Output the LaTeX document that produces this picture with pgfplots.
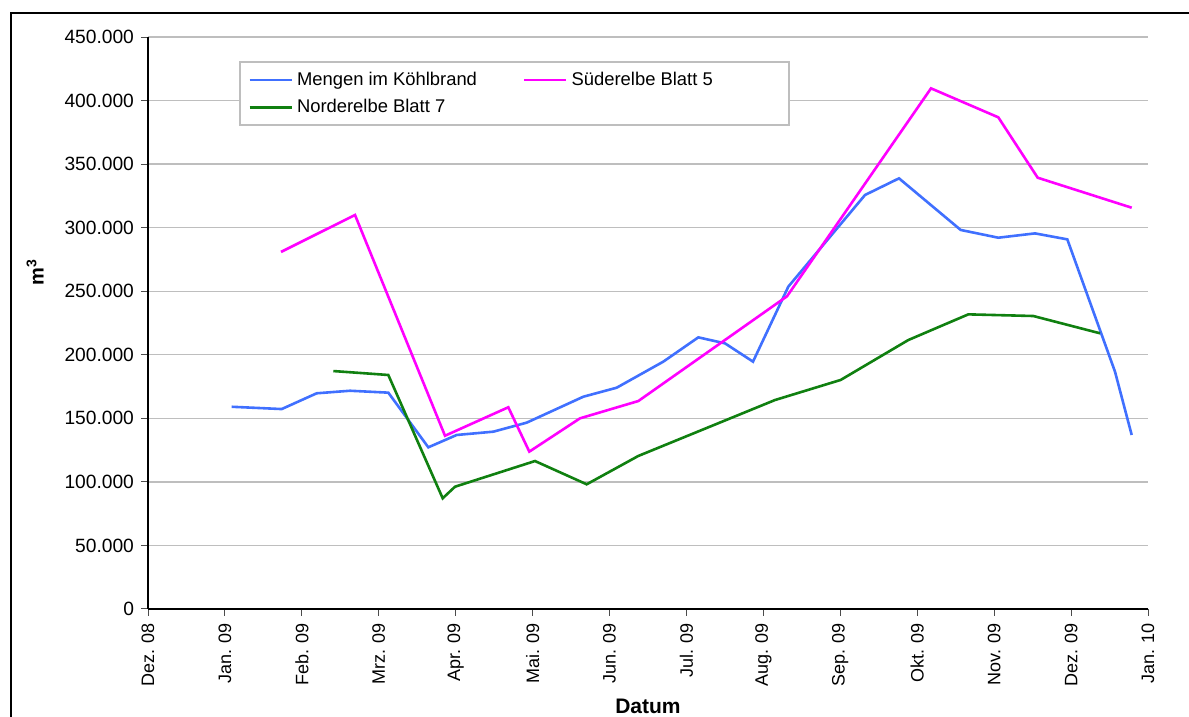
\documentclass[border=0pt]{standalone}
\usepackage{fontspec}
\setmainfont{Liberation Sans}
\usepackage{pgfplots}
\pgfplotsset{compat=1.18}
\definecolor{cblue}{RGB}{64,112,255}
\definecolor{cmag}{RGB}{255,0,255}
\definecolor{cgreen}{RGB}{16,128,16}
\definecolor{cgrid}{RGB}{190,190,190}
\begin{document}
\begin{tikzpicture}
\useasboundingbox (0,0) rectangle (594.5pt,358.5pt);
\draw[line width=1pt] (5.5pt,0) -- (5.5pt,352.2pt) -- (600pt,352.2pt);
\begin{axis}[
  at={(74pt,54pt)}, anchor=south west,
  scale only axis, width=500pt, height=286pt,
  xmin=0, xmax=13, ymin=0, ymax=450000,
  axis lines*=left,
  axis line style={black, line width=0.6pt, -},
  xtick={0,1,...,13},
  xticklabels={Dez. 08,Jan. 09,Feb. 09,Mrz. 09,Apr. 09,Mai. 09,Jun. 09,Jul. 09,Aug. 09,Sep. 09,Okt. 09,Nov. 09,Dez. 09,Jan. 10},
  ytick={0,50000,100000,150000,200000,250000,300000,350000,400000,450000},
  yticklabels={0,50.000,100.000,150.000,200.000,250.000,300.000,350.000,400.000,450.000},
  scaled y ticks=false,
  tick align=outside, major tick length=3.5pt,
  tick style={black!70, line width=0.5pt},
  xticklabel style={rotate=90, anchor=east, font=\fontsize{9}{10}\selectfont},
  yticklabel style={font=\fontsize{9.6}{11}\selectfont},
  ymajorgrids, grid style={cgrid, line width=0.7pt},
  xlabel={\textbf{Datum}},
  xlabel style={at={(axis description cs:0.5,-0.17)}, anchor=center, font=\fontsize{10.5}{12}\selectfont},
  ylabel={\textbf{m\textsuperscript{3}}},
  ylabel style={at={(axis description cs:-0.113,0.589)}, anchor=center, rotate=0, font=\fontsize{10}{12}\selectfont},
  legend columns=2,
  legend cell align=left,
  legend image code/.code={\draw[#1, line width=1.3pt] (0pt,0pt) -- (21pt,0pt);},
  legend style={draw=none, fill=none, at={(axis description cs:0.1,0.947)}, anchor=north west,
    inner sep=0pt, row sep=1.5pt, font=\fontsize{9.2}{11}\selectfont,
    /tikz/every even column/.append style={column sep=21pt}},
]
\fill[white] (rel axis cs:0.092,0.956) rectangle (rel axis cs:0.641,0.846);
\draw[cgrid, line width=0.7pt] (rel axis cs:0.092,0.956) rectangle (rel axis cs:0.641,0.846);
\addplot[cblue, line width=1.3pt] coordinates {
(1.088,159100) (1.738,157300) (2.193,169700) (2.626,171700) (3.124,170200) (3.644,127200) (4.013,136900) (4.489,139500) (4.923,146600) (5.659,167000) (6.093,174100) (6.699,194600) (7.154,213700) (7.501,209000) (7.865,194600) (8.324,253600) (9.321,325700) (9.763,338800) (10.565,298200) (11.054,292100) (11.531,295500) (11.951,290800) (12.571,186700) (12.788,136900)
};
\addlegendentry{Mengen im Köhlbrand}
\addplot[cmag, line width=1.3pt] coordinates {
(1.729,280900) (2.691,310000) (3.861,136300) (4.684,158700) (4.957,123800) (5.616,150000) (6.374,163600) (8.307,246000) (10.179,409600) (11.054,386800) (11.566,339300) (12.788,315700)
};
\addlegendentry{Süderelbe Blatt 5}
\addplot[cgreen, line width=1.3pt] coordinates {
(2.409,187200) (3.124,184100) (3.831,87100) (3.991,96200) (5.031,116400) (5.703,98100) (6.374,120400) (8.151,164400) (9.005,180200) (9.884,211600) (10.664,231800) (11.509,230500) (12.376,216900)
};
\addlegendentry{Norderelbe Blatt 7}
\end{axis}
\end{tikzpicture}
\end{document}
